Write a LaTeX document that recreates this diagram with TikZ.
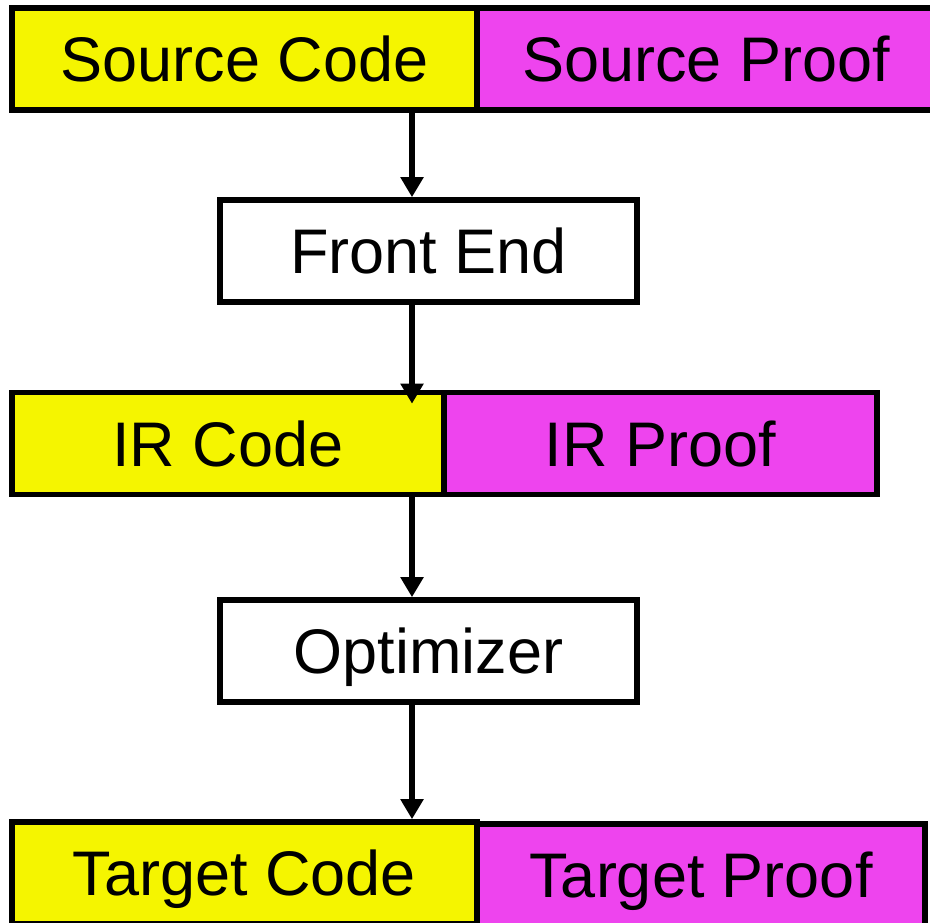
\documentclass[tikz,border=0pt]{standalone}
\usepackage{fontspec}
\setmainfont{Liberation Sans}
\usetikzlibrary{arrows.meta,calc}
\definecolor{codeyellow}{RGB}{245,245,0}
\definecolor{proofmagenta}{RGB}{238,68,238}

\begin{document}
\begin{tikzpicture}[x=0.5pt,y=-0.5pt,
		box/.style={draw,line width=2.8pt,inner sep=0pt,minimum height=51pt,
			text height=22.6pt,text depth=0pt,
			font=\fontsize{31.5}{36}\selectfont},
		code/.style={box,fill=codeyellow},
		proof/.style={box,fill=proofmagenta},
		stage/.style={box,fill=white,minimum width=208.5pt},
		flow/.style={line width=3.2pt,-{Triangle[length=10pt,width=11pt]}}]
		\clip (0,0) rectangle (930,922);
		\coordinate (axis) at (412,0);
		% source
		\node[code,minimum width=232.5pt] (srccode) at (244.5,59) {Source Code};
		\node[proof,minimum width=229pt] (srcproof) at (706,59) {Source Proof};
		\node[stage] (frontend) at (428.5,251) {Front End};
		% intermediate
		\node[code,minimum width=216pt] (ircode) at (228,443.5) {IR Code};
		\node[proof,minimum width=216.5pt] (irproof) at (660.5,443.5) {IR Proof};
		\node[stage] (optimizer) at (428.5,651) {Optimizer};
		% target
		\node[code,minimum width=232.5pt] (tgtcode) at (244.5,873) {Target Code};
		\node[proof,minimum width=224pt] (tgtproof) at (701,875) {Target Proof};
		\draw[flow] (srccode.south -| axis) -- (frontend.north -| axis);
		\draw[flow] (frontend.south -| axis) -- ($(ircode.north -| axis)+(0,14)$);
		\draw[flow] (ircode.south -| axis) -- (optimizer.north -| axis);
		\draw[flow] (optimizer.south -| axis) -- (tgtcode.north -| axis);
\end{tikzpicture}
\end{document}
